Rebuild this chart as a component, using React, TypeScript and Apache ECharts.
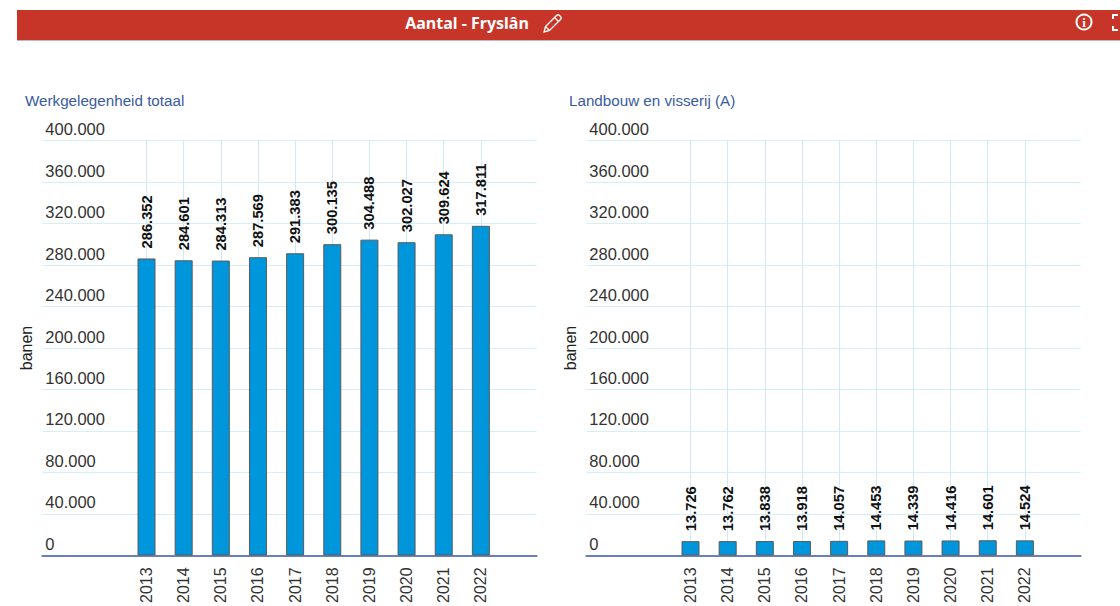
import React, { useEffect, useRef } from "react";
import * as echarts from "echarts";

const years = [2013, 2014, 2015, 2016, 2017, 2018, 2019, 2020, 2021, 2022];
const totaal = [286352, 284601, 284313, 287569, 291383, 300135, 304488, 302027, 309624, 317811];
const landbouw = [13726, 13762, 13838, 13918, 14057, 14453, 14339, 14416, 14601, 14524];
const titleLeft = "Werkgelegenheid totaal";
const titleRight = "Landbouw en visserij (A)";
const headerTitle = "Aantal - Fryslân";
const yName = "banen";

const FONT = '"Liberation Sans", Arial, sans-serif';
const dutch = (v: number) => String(v).replace(/\B(?=(\d{3})+$)/g, ".");

const CHART_W = 494.3;
const OFFSET = 544;

const xAxis = (gridIndex: number) => ({
  type: "value",
  gridIndex,
  min: 2010.195,
  max: 2023.5,
  axisLine: { show: true, onZero: true, lineStyle: { color: "#6a80bd", width: 2 } },
  axisTick: { show: false, customValues: years },
  splitLine: { show: true, lineStyle: { color: "#cfe9f9", width: 1 } },
  axisLabel: {
    customValues: years,
    rotate: 90,
    margin: 12,
    color: "#333",
    fontSize: 16,
    fontFamily: FONT,
    padding: [0, 0, 2, 0],
    formatter: (v: number) => String(v),
  },
});

const yAxis = (gridIndex: number) => ({
  type: "value",
  gridIndex,
  min: 0,
  max: 400000,
  interval: 40000,
  name: yName,
  nameLocation: "middle",
  nameRotate: 90,
  nameGap: 8,
  nameTextStyle: { color: "#222", fontSize: 16, fontFamily: FONT },
  axisLine: { show: false },
  axisTick: { show: false },
  splitLine: { show: true, lineStyle: { color: "#d5eefb", width: 1 } },
  axisLabel: {
    inside: true,
    align: "left",
    verticalAlign: "bottom",
    margin: 3,
    padding: [0, 0, 3, 0],
    color: "#333",
    fontSize: 16.5,
    fontFamily: FONT,
    formatter: (v: number) => dutch(v),
  },
});

const bars = (idx: number, values: number[]) => ({
  type: "bar",
  xAxisIndex: idx,
  yAxisIndex: idx,
  barWidth: 18,
  data: years.map((y, i) => [y, values[i]]),
  itemStyle: { color: "#0096db", borderColor: "#5a5a5a", borderWidth: 1 },
  label: {
    show: true,
    position: "top",
    distance: 10,
    rotate: 90,
    align: "left",
    verticalAlign: "middle",
    color: "#111",
    fontSize: 14.7,
    fontWeight: "bold",
    fontFamily: FONT,
    formatter: (p: any) => dutch(p.value[1]),
  },
});

const white = { stroke: "#fff", fill: "none", lineWidth: 2 };

export default function App() {
  const ref = useRef<HTMLDivElement>(null);
  useEffect(() => {
    echarts.graphic.registerShape(
      "pencil",
      echarts.graphic.extendPath(
        "M1 19 L2.5 13.5 L13.5 2.5 Q15 1 16.5 2.5 L17.5 3.5 Q19 5 17.5 6.5 L6.5 17.5 Z M11.5 4.5 L15.5 8.5 M2.5 13.5 L6.5 17.5",
        {}
      )
    );
    const chart = echarts.init(ref.current!, undefined, { renderer: "svg" });
    chart.setOption({
      animation: false,
      backgroundColor: "#fff",
      grid: [
        { left: 42.3, top: 140.6, width: CHART_W, height: 416 },
        { left: 42.3 + OFFSET, top: 140.6, width: CHART_W, height: 416 },
      ],
      xAxis: [xAxis(0), xAxis(1)],
      yAxis: [yAxis(0), yAxis(1)],
      series: [bars(0, totaal), bars(1, landbouw)],
      graphic: [
        { type: "rect", shape: { x: 17, y: 40, width: 1103, height: 1 }, style: { fill: "#bbb" } },
        { type: "rect", shape: { x: 17, y: 10, width: 1103, height: 30 }, style: { fill: "#c63527" } },
        {
          type: "text",
          x: 467,
          y: 23,
          style: {
            text: headerTitle,
            fill: "#fff",
            font: 'bold 16px "Noto Sans", sans-serif',
            align: "center",
            verticalAlign: "middle",
          },
        },
        { type: "pencil", x: 543, y: 13, style: { ...white, lineWidth: 1.3 } },
        { type: "circle", shape: { cx: 1084, cy: 22, r: 7.5 }, style: white },
        {
          type: "text",
          x: 1084,
          y: 22,
          style: {
            text: "i",
            fill: "#fff",
            font: 'bold 13px "Liberation Serif", serif',
            align: "center",
            verticalAlign: "middle",
          },
        },
        { type: "polyline", shape: { points: [[1118, 15], [1113, 15], [1113, 19]] }, style: white },
        { type: "polyline", shape: { points: [[1113, 26], [1113, 30], [1118, 30]] }, style: white },
        {
          type: "text",
          x: 25,
          y: 100,
          style: { text: titleLeft, fill: "#3a5a9f", font: `15.2px ${FONT}`, verticalAlign: "middle" },
        },
        {
          type: "text",
          x: 25 + OFFSET,
          y: 100,
          style: { text: titleRight, fill: "#3a5a9f", font: `15.2px ${FONT}`, verticalAlign: "middle" },
        },
      ],
    });
    return () => chart.dispose();
  }, []);
  return (
    <div
      ref={ref}
      style={{ position: "fixed", left: 0, top: 0, width: 1120, height: 606, overflow: "hidden" }}
    />
  );
}
